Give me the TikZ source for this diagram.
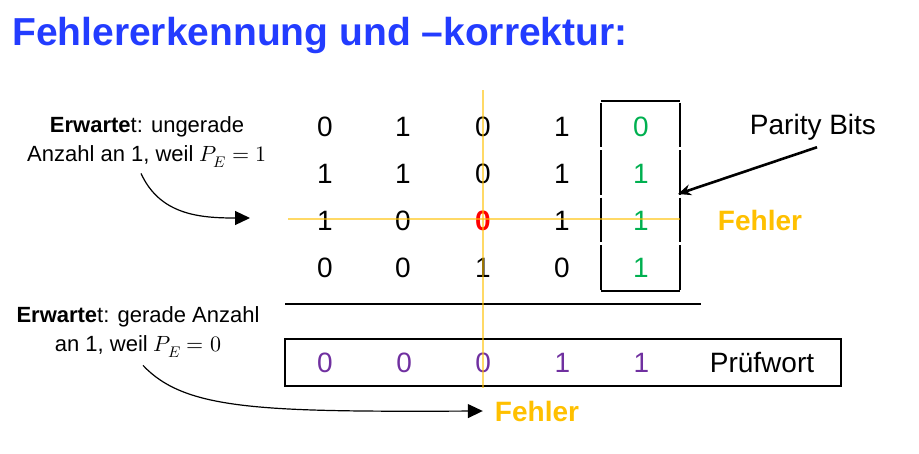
\documentclass[tikz,border=0pt]{standalone}
\usepackage{fontspec}
\usepackage{unicode-math}
\setmainfont{Liberation Sans}
\setmathfont{Latin Modern Math}
\usetikzlibrary{arrows.meta}

\definecolor{titleblue}{RGB}{35,60,255}
\definecolor{fehler}{RGB}{255,192,0}
\definecolor{paritygreen}{RGB}{0,176,80}
\definecolor{wortpurple}{RGB}{112,48,160}

\begin{document}
\begin{tikzpicture}[x=1pt,y=-1pt,
  bit/.style={font=\fontsize{28}{32}\selectfont,inner sep=0pt},
  lbl/.style={font=\fontsize{22}{29}\selectfont,align=center,inner sep=0pt},
  boxline/.style={black,line width=1.3pt},
  errline/.style={fehler,line width=2pt,opacity=.6},
  curvearrow/.style={black,line width=1.2pt,-{Triangle[length=15pt,width=14pt]}}]
\useasboundingbox (0,0) rectangle (919,453);

\node[anchor=base west,inner sep=0pt,titleblue,font=\fontsize{39}{44}\selectfont\bfseries]
  (title) at (12,45) {Fehlererkennung und –korrektur:};

% Datenbits und Parity Bits
\foreach \r/\a/\b/\c/\d/\p [evaluate=\r as \y using 80+47*\r] in
  {1/0/1/0/1/0, 2/1/1/0/1/1, 3/1/0/{\textcolor{red}{\bfseries 0}}/1/1, 4/0/0/1/0/1} {
 \node[bit] (b\r1) at (325,\y) {\a};
 \node[bit] (b\r2) at (403,\y) {\b};
 \node[bit] (b\r3) at (483,\y) {\c};
 \node[bit] (b\r4) at (562,\y) {\d};
 \node[bit,paritygreen] (p\r) at (641,\y) {\p};
 \draw[boxline] (601,{101+47.5*(\r-1)+1.5}) --++(0,44.5);
 \draw[boxline] (680,{101+47.5*(\r-1)+1.5}) --++(0,44.5);
}
\draw[boxline] (601,101) -- (680,101);
\draw[boxline] (601,291) -- (680,291);

\draw[black,line width=2pt] (285,304) -- (701,304);

% Pruefwort
\draw[boxline] (285,339) rectangle (841,386);
\foreach \v [count=\i] in {0,0,0,1,1} {
 \node[bit,wortpurple] (w\i) at ({325+79.1*(\i-1)},363) {\v};
}
\node[bit] (wort) at (762,363) {Prüfwort};

% Markierung des Fehlers
\draw[errline] (483,90) -- (483,388);
\draw[errline] (288,219) -- (680,219);
\node[bit,fehler,font=\fontsize{28}{32}\selectfont\bfseries] (fehlerrow) at (760,220) {Fehler};
\node[bit,fehler,font=\fontsize{28}{32}\selectfont\bfseries] (fehlercol) at (537,411) {Fehler};

\node[bit] (parity) at (813,127) {Parity Bits};
\coordinate (pbox) at (678,194);
\draw[black,line width=2.6pt,-{Stealth[length=13pt,width=11pt]}] ([xshift=4pt,yshift=-7pt]parity.south) -- (pbox);

\node[lbl] (lblodd) at (147,142) {\textbf{Erwarte}t: ungerade\\Anzahl an 1, weil $P_E=1$};
\node[lbl] (lbleven) at (138,332) {\textbf{Erwarte}t: gerade Anzahl\\an 1, weil $P_E=0$};

\coordinate (oddend) at (250,218);
\draw[curvearrow] ([xshift=-6pt,yshift=-6pt]lblodd.south) .. controls (160,215) and (200,218) .. (oddend);
\draw[curvearrow] ([xshift=5pt,yshift=-8pt]lbleven.south) .. controls (185,410) and (260,412) .. ([xshift=-12pt]fehlercol.west);
\end{tikzpicture}
\end{document}
